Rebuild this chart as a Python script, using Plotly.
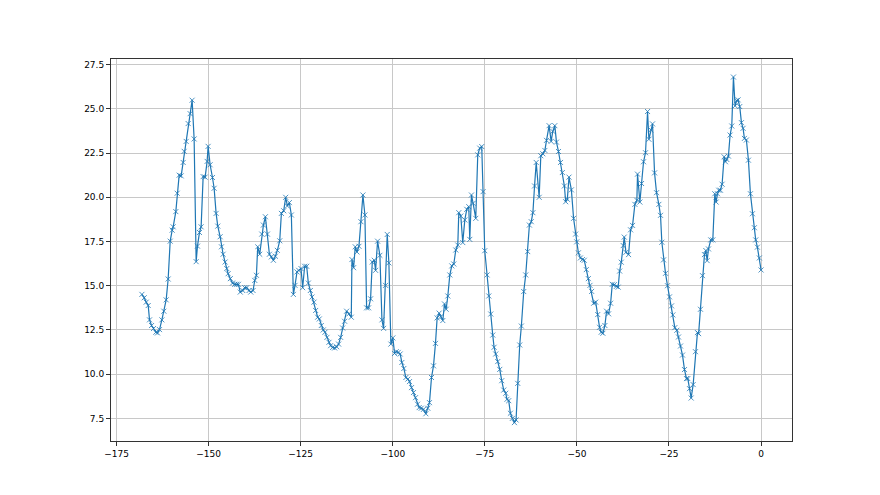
import plotly.graph_objects as go

x_vals = [
    -168.11, -167.48, -166.94, -166.40, -166.04, -165.49, -164.95, -164.32, -163.87, -163.33,
    -162.69, -162.15, -161.52, -160.98, -160.43, -159.89, -159.62, -158.90, -158.53, -157.99,
    -157.45, -156.91, -156.64, -156.09, -155.55, -155.01, -154.47, -153.93, -153.38, -153.02,
    -152.48, -152.03, -151.48, -150.94, -150.40, -150.13, -149.59, -148.95, -148.50, -147.96,
    -147.51, -146.87, -146.51, -146.06, -145.52, -145.07, -144.70, -144.10, -143.50, -142.90,
    -142.40, -141.90, -141.40, -140.73, -140.19, -139.64, -139.01, -138.56, -137.93, -137.47,
    -137.02, -136.66, -136.12, -135.57, -135.12, -134.58, -134.04, -133.49, -132.95, -132.41,
    -131.87, -131.33, -130.69, -130.24, -129.61, -129.07, -128.62, -128.07, -127.53, -126.99,
    -126.54, -126.00, -125.54, -124.91, -124.46, -123.92, -123.37, -122.92, -122.38, -121.93,
    -121.39, -120.94, -120.39, -119.94, -119.40, -118.86, -118.40, -117.86, -117.32, -116.87,
    -116.32, -115.78, -115.24, -114.70, -114.15, -113.61, -113.07, -112.53, -111.89, -111.26,
    -111.08, -110.63, -110.18, -109.73, -109.18, -108.64, -108.10, -107.56, -107.10, -106.56,
    -106.02, -105.56, -105.02, -104.66, -104.12, -103.49, -102.94, -102.49, -101.95, -101.50,
    -101.05, -100.51, -99.97, -99.51, -99.06, -98.52, -97.98, -97.53, -96.99, -96.44,
    -95.90, -95.45, -94.90, -94.36, -93.82, -93.28, -92.83, -92.28, -91.65, -91.02,
    -90.48, -90.03, -89.48, -88.94, -88.40, -87.95, -87.40, -86.95, -86.41, -85.95,
    -85.50, -85.05, -84.51, -83.97, -83.43, -82.88, -82.34, -82.07, -81.53, -80.99,
    -80.44, -79.90, -79.36, -79.09, -78.63, -78.18, -77.46, -76.92, -76.38, -75.84,
    -75.47, -75.02, -74.39, -73.93, -73.39, -72.85, -72.49, -72.04, -71.50, -70.95,
    -70.41, -69.87, -69.33, -68.97, -68.51, -68.06, -67.52, -66.97, -66.52, -66.07,
    -65.53, -65.08, -64.44, -63.90, -63.36, -62.90, -62.40, -61.95, -61.50, -61.05,
    -60.25, -59.80, -59.25, -58.70, -58.25, -57.55, -57.00, -56.55, -56.00, -55.55,
    -55.00, -54.45, -53.95, -53.40, -53.05, -52.60, -52.15, -51.50, -50.90, -50.35,
    -50.05, -49.60, -49.05, -48.50, -48.00, -47.45, -46.90, -46.45, -46.00, -45.45,
    -44.90, -44.35, -43.85, -43.40, -42.95, -42.40, -41.95, -41.40, -40.85, -40.40,
    -39.85, -39.30, -38.80, -38.40, -37.96, -37.42, -37.15, -36.69, -35.97, -35.43,
    -34.89, -34.26, -33.72, -33.54, -32.90, -32.45, -31.91, -31.37, -30.82, -30.46,
    -29.92, -29.47, -28.92, -28.38, -27.75, -27.30, -26.94, -26.48, -25.94, -25.40,
    -24.86, -24.31, -23.95, -23.41, -22.87, -22.42, -21.87, -21.33, -20.79, -20.25,
    -19.89, -19.43, -18.98, -18.44, -17.81, -17.27, -16.95, -16.45, -15.91, -15.37,
    -15.00, -14.64, -14.28, -13.65, -13.10, -12.56, -12.20, -11.84, -11.48, -11.03,
    -10.58, -10.03, -9.67, -9.31, -8.86, -8.41, -7.95, -7.50, -7.05, -6.60,
    -6.24, -5.79, -5.33, -4.88, -4.52, -3.98, -3.43, -2.89, -2.35, -1.81,
    -1.45, -1.00, -0.46, 0.00,
]

y_vals = [
    14.51, 14.32, 14.07, 13.88, 13.07, 12.75, 12.58, 12.37, 12.33, 12.52,
    13.07, 13.56, 14.20, 15.38, 17.52, 18.14, 18.33, 19.19, 20.23, 21.25,
    21.21, 21.97, 22.60, 23.16, 24.17, 24.73, 25.49, 23.30, 16.36, 17.24,
    18.01, 18.33, 21.17, 21.14, 22.03, 22.88, 21.84, 21.12, 20.51, 19.09,
    18.37, 17.77, 17.20, 16.78, 16.34, 15.97, 15.68, 15.40, 15.15, 15.08,
    15.08, 15.08, 14.64, 14.73, 14.89, 14.89, 14.73, 14.64, 14.73, 15.30,
    15.59, 17.20, 16.78, 17.92, 18.43, 18.90, 17.92, 16.78, 16.63, 16.44,
    16.67, 17.00, 17.54, 19.09, 19.24, 20.00, 19.51, 19.70, 19.00, 14.51,
    15.02, 15.78, 15.87, 15.97, 14.89, 16.10, 16.10, 15.15, 14.73, 14.36,
    14.07, 13.60, 13.22, 13.12, 12.75, 12.50, 12.37, 12.08, 11.80, 11.61,
    11.51, 11.48, 11.55, 11.70, 12.08, 12.61, 12.99, 13.56, 13.41, 13.22,
    16.48, 16.02, 17.20, 16.91, 17.23, 18.62, 20.13, 19.00, 13.75, 13.75,
    14.26, 16.34, 16.44, 15.87, 17.52, 16.72, 13.07, 12.59, 15.02, 17.90,
    16.29, 11.70, 12.05, 11.17, 11.27, 11.23, 11.14, 10.66, 10.32, 9.81,
    9.72, 9.58, 9.24, 8.96, 8.67, 8.30, 8.11, 8.07, 8.01, 7.76,
    8.07, 8.39, 9.81, 10.47, 11.74, 13.18, 13.45, 13.25, 13.03, 13.97,
    13.67, 14.42, 15.61, 16.12, 16.23, 17.02, 17.30, 19.13, 18.94, 17.44,
    18.72, 19.32, 19.47, 17.62, 20.13, 19.66, 18.81, 22.40, 22.78, 22.87,
    20.32, 16.98, 15.61, 14.42, 13.40, 12.21, 11.52, 11.14, 10.71, 10.27,
    9.63, 9.10, 8.92, 8.58, 8.50, 7.79, 7.50, 7.26, 7.41, 9.48,
    11.65, 12.72, 14.67, 15.61, 16.93, 18.43, 18.62, 19.13, 20.64, 21.97,
    20.00, 22.35, 22.46, 22.65, 23.22, 24.05, 23.16, 23.73, 24.05, 23.12,
    22.59, 21.97, 21.40, 20.64, 19.75, 19.89, 21.14, 20.42, 18.81, 17.92,
    17.48, 16.86, 16.57, 16.48, 16.44, 15.91, 15.40, 15.02, 14.68, 14.01,
    14.07, 13.37, 12.65, 12.37, 12.31, 12.75, 13.56, 13.41, 14.01, 15.08,
    15.06, 14.96, 14.92, 15.83, 16.33, 17.27, 17.75, 16.89, 16.76, 18.16,
    18.41, 19.60, 19.83, 21.31, 19.73, 20.78, 22.01, 22.52, 24.85, 23.28,
    23.81, 24.15, 21.38, 20.26, 19.60, 18.98, 17.46, 16.46, 15.70, 15.00,
    14.37, 13.86, 13.35, 12.63, 12.48, 12.10, 11.59, 11.08, 10.26, 9.75,
    9.75, 9.18, 8.65, 9.41, 11.27, 12.35, 12.29, 13.67, 15.57, 16.76,
    16.99, 16.42, 17.08, 17.59, 17.59, 20.20, 19.73, 20.20, 20.40, 20.40,
    20.74, 22.29, 22.01, 22.14, 22.33, 23.52, 24.03, 26.80, 25.17, 25.47,
    25.51, 25.13, 24.22, 23.90, 23.33, 23.24, 22.10, 20.20, 19.07, 18.28,
    17.59, 17.18, 16.57, 15.89,
]

x_ticks = [-175, -150, -125, -100, -75, -50, -25, 0]
x_tick_labels = ["\u2212175", "\u2212150", "\u2212125", "\u2212100", "\u221275", "\u221250", "\u221225", "0"]
y_ticks = [7.5, 10.0, 12.5, 15.0, 17.5, 20.0, 22.5, 25.0, 27.5]
y_tick_labels = ["7.5", "10.0", "12.5", "15.0", "17.5", "20.0", "22.5", "25.0", "27.5"]

fig = go.Figure()
fig.add_trace(go.Scatter(
    x=x_vals, y=y_vals, mode="lines+markers",
    line=dict(color="#1f77b4", width=1.2),
    marker=dict(symbol="x-thin", size=5, color="#1f77b4",
                line=dict(color="#1f77b4", width=0.8)),
    showlegend=False,
))

axis_common = dict(
    showline=True, mirror=True, linecolor="#333333", linewidth=1,
    showgrid=True, gridcolor="#c8c8c8", gridwidth=1,
    ticks="outside", ticklen=4, tickcolor="#333333", tickwidth=1,
    zeroline=False,
    tickfont=dict(family="DejaVu Sans", size=9, color="#000000"),
)

fig.update_layout(
    width=880, height=495,
    margin=dict(l=103, r=96, t=51, b=62),
    paper_bgcolor="white", plot_bgcolor="white",
    xaxis=dict(range=[-176.5, 8.4], tickvals=x_ticks, ticktext=x_tick_labels, **axis_common),
    yaxis=dict(range=[6.22, 27.82], tickvals=y_ticks, ticktext=y_tick_labels, **axis_common),
)

fig.write_html("out.html")
